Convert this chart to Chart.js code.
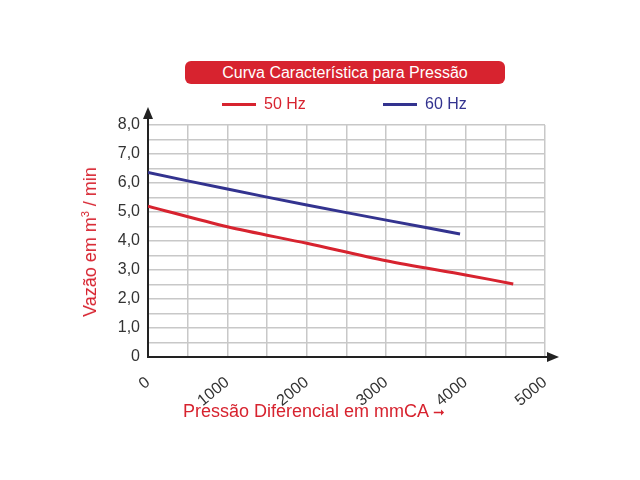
<!DOCTYPE html>
<html>
<head>
<meta charset="utf-8">
<script src="https://cdn.jsdelivr.net/npm/chart.js@4/dist/chart.umd.min.js"></script>
<style>
  body { margin: 0; background: #fff; font-family: "Liberation Sans", Arial, sans-serif; }
  #wrap { position: relative; width: 640px; height: 480px; }
  canvas { position: absolute; left: 0; top: 0; }
  .t { position: absolute; white-space: nowrap; }
  #title { left: 185px; top: 61px; width: 320px; height: 23px; line-height: 23px; background: #d7232f; color: #fff;
           border-radius: 6px; text-align: center; font-size: 16px; }
  .lg { top: 95px; font-size: 16px; }
  .sw { display: inline-block; width: 34px; height: 3px; vertical-align: middle; margin-right: 8px; }
  #xt { left: 183px; top: 401px; color: #d7232f; font-size: 18px; }
  #yt { left: 90px; top: 242px; color: #d7232f; font-size: 18px; transform: translate(-50%, -50%) rotate(-90deg); }
</style>
</head>
<body>
<div id="wrap">
  <canvas id="c" width="640" height="480"></canvas>
  <div class="t" id="title">Curva Característica para Pressão</div>
  <div class="t lg" style="left:222px;color:#d7232f"><span class="sw" style="background:#d7232f"></span>50 Hz</div>
  <div class="t lg" style="left:383px;color:#33338f"><span class="sw" style="background:#33338f"></span>60 Hz</div>
  <div class="t" id="xt">Pressão Diferencial em mmCA <span style="font-size:14px">➞</span></div>
  <div class="t" id="yt">Vazão em m<sup style="font-size:11px">3</sup> / min</div>
</div>
<script>
const pressure50 = [0, 1000, 2000, 3000, 4000, 4600];
const flow50 = [5.2, 4.49, 3.92, 3.32, 2.83, 2.52];
const pressure60 = [0, 1000, 2000, 3000, 3930];
const flow60 = [6.36, 5.79, 5.24, 4.72, 4.24];

const arrows = {
  id: 'arrows',
  afterDraw(chart) {
    const { ctx, chartArea: a } = chart;
    ctx.save();
    ctx.fillStyle = '#222';
    ctx.beginPath();
    ctx.moveTo(a.left, a.top - 18); ctx.lineTo(a.left - 5, a.top - 6); ctx.lineTo(a.left + 5, a.top - 6); ctx.fill();
    ctx.strokeStyle = '#222'; ctx.lineWidth = 2;
    ctx.beginPath(); ctx.moveTo(a.left, a.top - 8); ctx.lineTo(a.left, a.top); ctx.stroke();
    ctx.beginPath(); ctx.moveTo(a.right, a.bottom); ctx.lineTo(a.right + 6, a.bottom); ctx.stroke();
    ctx.beginPath();
    ctx.moveTo(a.right + 14, a.bottom); ctx.lineTo(a.right + 2, a.bottom - 5); ctx.lineTo(a.right + 2, a.bottom + 5); ctx.fill();
    ctx.restore();
  }
};

new Chart(document.getElementById('c'), {
  type: 'line',
  data: {
    datasets: [
      { label: '50 Hz', data: pressure50.map((x, i) => ({ x, y: flow50[i] })), borderColor: '#d7232f', borderWidth: 3, pointRadius: 0, tension: 0.3 },
      { label: '60 Hz', data: pressure60.map((x, i) => ({ x, y: flow60[i] })), borderColor: '#33338f', borderWidth: 3, pointRadius: 0, tension: 0.3 }
    ]
  },
  options: {
    responsive: false, animation: false,
    layout: { padding: { left: 0, right: 95, top: 125, bottom: 0 } },
    plugins: { legend: { display: false }, tooltip: { enabled: false } },
    scales: {
      x: {
        type: 'linear', min: 0, max: 5000,
        afterFit(s) { s.height = 123; },
        grid: { color: '#c8c8c8', lineWidth: 1.5, drawTicks: false },
        border: { color: '#222', width: 2 },
        ticks: { stepSize: 500, autoSkip: false, color: '#333', font: { size: 16 }, padding: 16,
                 callback: v => v % 1000 === 0 ? v : '' }
      },
      y: {
        min: 0, max: 8,
        afterFit(s) { s.width = 148; },
        grid: { color: '#c8c8c8', lineWidth: 1.5, drawTicks: false },
        border: { color: '#222', width: 2 },
        ticks: { stepSize: 0.5, autoSkip: false, color: '#333', font: { size: 16 }, padding: 8,
                 callback: v => v === 0 ? '0' : (Number.isInteger(v) ? v.toFixed(1).replace('.', ',') : '') }
      }
    }
  },
  plugins: [arrows]
});
</script>
</body>
</html>
